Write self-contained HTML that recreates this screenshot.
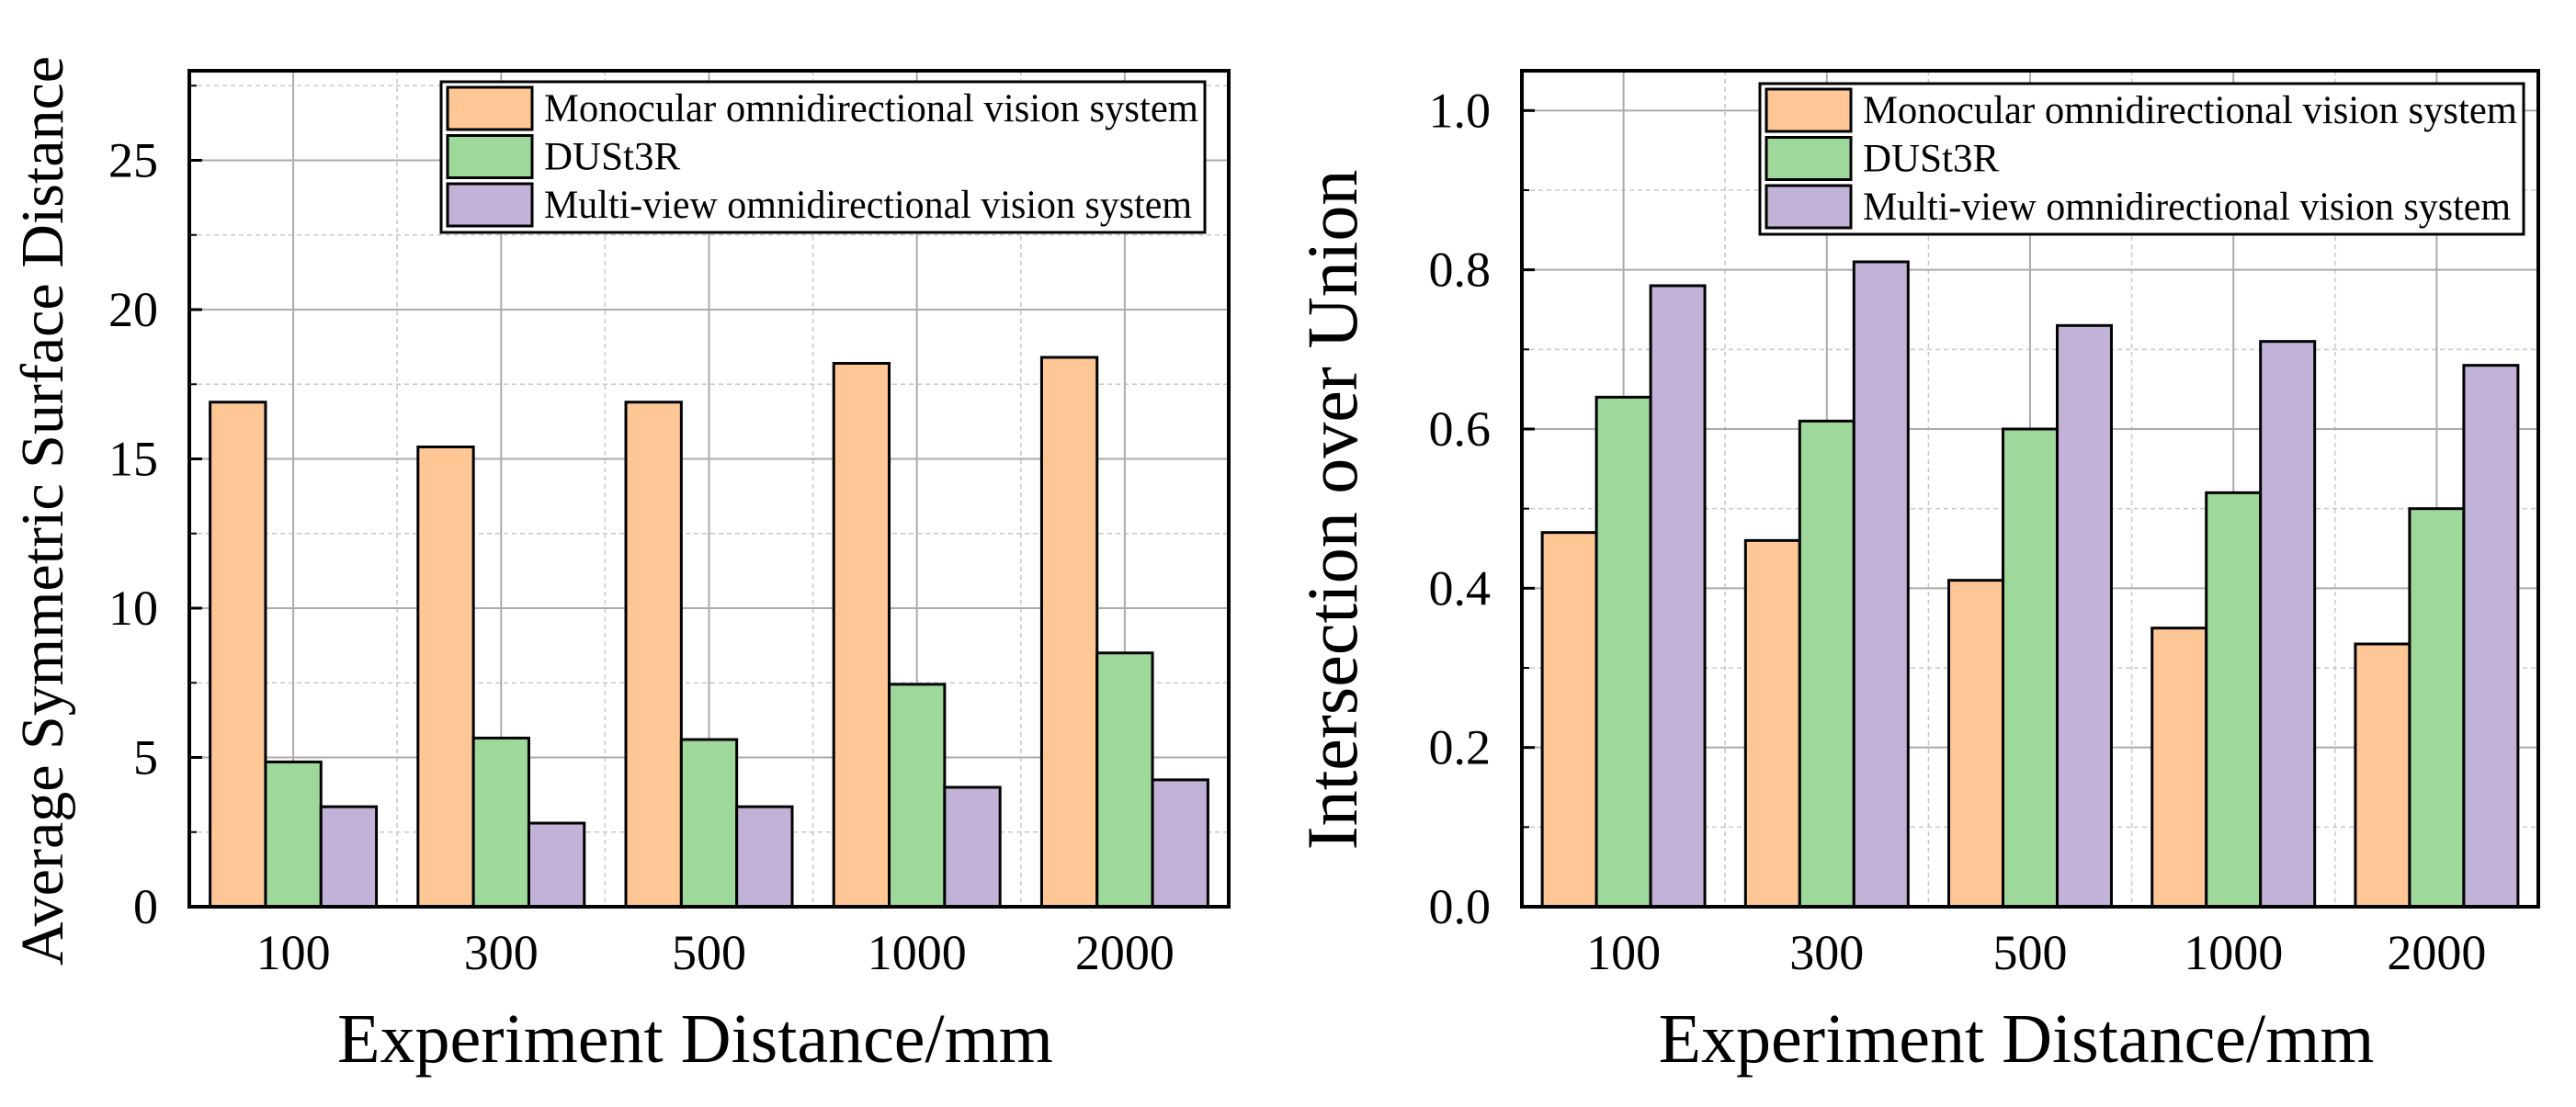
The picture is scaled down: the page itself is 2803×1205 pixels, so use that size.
<!DOCTYPE html>
<html><head><meta charset="utf-8"><style>
html,body{margin:0;padding:0;background:#fff;}
svg{display:block;font-family:"Liberation Serif",serif;}
</style></head><body>
<svg id="c" width="2803" height="1205" viewBox="0 0 2803 1205" xmlns="http://www.w3.org/2000/svg"></svg>
<script>
const categories = ["100","300","500","1000","2000"];
const seriesNames = ["Monocular omnidirectional vision system","DUSt3R","Multi-view omnidirectional vision system"];
const assdMono = [16.9,15.4,16.9,18.2,18.4];
const assdDust = [4.85,5.65,5.6,7.45,8.5];
const assdMulti = [3.35,2.8,3.35,4.0,4.25];
const iouMono = [0.47,0.46,0.41,0.35,0.33];
const iouDust = [0.64,0.61,0.60,0.52,0.50];
const iouMulti = [0.78,0.81,0.73,0.71,0.68];
const leftTicks = [0,5,10,15,20,25];
const rightTicks = [0.0,0.2,0.4,0.6,0.8,1.0];
const rightTickLabels = ["0.0","0.2","0.4","0.6","0.8","1.0"];

const colors = ["#fec795","#9ed89a","#c2b2d8"];
const legendLens = [712,null,705];
const NS="http://www.w3.org/2000/svg";
const svg=document.getElementById('c');
function mk(tag,attrs,parent){const e=document.createElementNS(NS,tag);for(const k in attrs)e.setAttribute(k,attrs[k]);(parent||svg).appendChild(e);return e;}

function chart(o){
  const g=mk('g',{});
  
  
  const L=o.x0,R=o.x1,T=o.y0,B=o.y1;
  const y=v=>B-(v/o.max)*(B-T);
  const n=categories.length, step=(R-L)/n;
  const cx=i=>L+step*(i+0.5);
  for(let v=o.minor;v<o.max;v+=o.minor*2){
    const l=mk('line',{x1:L,x2:R,y1:y(v),y2:y(v),stroke:'#c8c8c8','stroke-width':1.5,'stroke-dasharray':'5,4'},g);
    
    
  }
  for(let i=1;i<n;i++){
    const l=mk('line',{x1:L+step*i,x2:L+step*i,y1:T,y2:B,stroke:'#c8c8c8','stroke-width':1.5,'stroke-dasharray':'5,4'},g);
    
    
  }
  o.ticks.forEach((v,i)=>{
    if(v>0){const l=mk('line',{x1:L,x2:R,y1:y(v),y2:y(v),stroke:'#ababab','stroke-width':2},g);
    
    }
    const t=mk('line',{x1:L,x2:L+14,y1:y(v),y2:y(v),stroke:'#000','stroke-width':3},g);
    
    
    const tx=mk('text',{x:o.labelX,y:y(v)+18,'text-anchor':'end','font-size':54},g);
    tx.textContent=o.tickLabels[i];
    
    
  });
  for(let v=o.minor;v<o.max;v+=o.minor*2){
    const t=mk('line',{x1:L,x2:L+8,y1:y(v),y2:y(v),stroke:'#000','stroke-width':2},g);
    
    
  }
  categories.forEach((c,i)=>{
    const l=mk('line',{x1:cx(i),x2:cx(i),y1:T,y2:B,stroke:'#ababab','stroke-width':2},g);
    
    
    const tx=mk('text',{x:cx(i),y:B+68,'text-anchor':'middle','font-size':54},g);
    tx.textContent=c;
    
    
  });
  const bw=step*0.8/3;
  o.series.forEach((s,si)=>{
    s.forEach((v,i)=>{
      const x=cx(i)-1.5*bw+si*bw;
      const r=mk('rect',{x:x,y:y(v),width:bw,height:B-y(v),fill:colors[si],stroke:'#000','stroke-width':3},g);
      
      
    });
  });
  const fr=mk('rect',{x:L,y:T,width:R-L,height:B-T,fill:'none',stroke:'#000','stroke-width':4},g);
  
  
  const lg=mk('g',{},g);
  
  
  const lb=mk('rect',{x:o.lx,y:o.ly,width:o.lw,height:164,fill:'#fff',stroke:'#000','stroke-width':3},lg);
  
  
  seriesNames.forEach((nm,si)=>{
    const sy=o.ly+6+si*52.5;
    const sw=mk('rect',{x:o.lx+7,y:sy,width:92,height:46,fill:colors[si],stroke:'#000','stroke-width':3},lg);
    
    
    const at={x:o.lx+112,y:sy+37,'font-size':43};
    if(legendLens[si]){at.textLength=legendLens[si];at.lengthAdjust='spacingAndGlyphs';}
    const tx=mk('text',at,lg);
    tx.textContent=nm;
    
    
  });
  const xt=mk('text',{x:(L+R)/2-15,y:1156,'text-anchor':'middle','font-size':76},g);
  xt.textContent='Experiment Distance/mm';
  
  
  const yt=mk('text',{x:0,y:0,'text-anchor':'middle','font-size':o.ytSize,transform:'translate('+o.ytX+','+o.ytY+') rotate(-90)'},g);
  yt.textContent=o.ytitle;
  
  
}
chart({name:'assd-chart',x0:206,x1:1337,y0:77,y1:987,max:28,minor:2.5,ticks:leftTicks,tickLabels:leftTicks.map(String),labelX:172,
  series:[assdMono,assdDust,assdMulti],lx:480,ly:89,lw:831,ytitle:'Average Symmetric Surface Distance',ytSize:66,ytX:68,ytY:556});
chart({name:'iou-chart',x0:1656,x1:2762,y0:77,y1:987,max:1.05,minor:0.1,ticks:rightTicks,tickLabels:rightTickLabels,labelX:1622,
  series:[iouMono,iouDust,iouMulti],lx:1915,ly:91,lw:831,ytitle:'Intersection over Union',ytSize:78,ytX:1476,ytY:555});
</script>
</body></html>
